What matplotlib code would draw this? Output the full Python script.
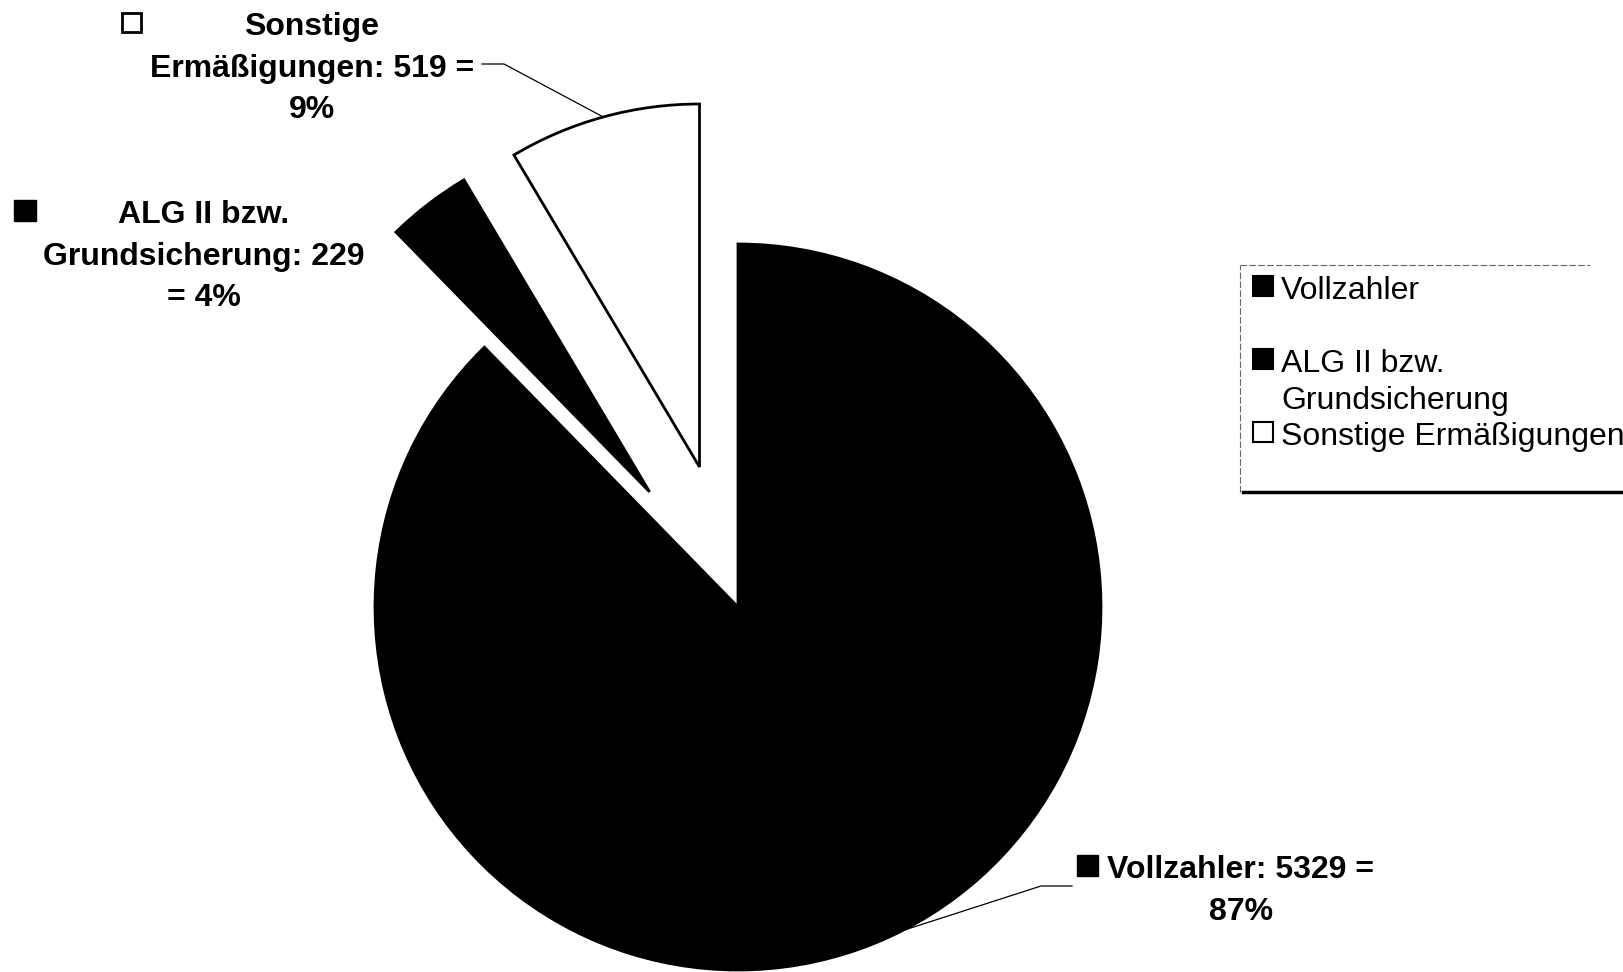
import numpy as np
import matplotlib
matplotlib.use('Agg')
from matplotlib import pyplot
from matplotlib.patches import Rectangle

# Teilnehmer nach Tarif
names = ['Vollzahler', 'ALG II bzw. Grundsicherung', 'Sonstige Ermäßigungen']
counts = [5329, 229, 519]
percents = [87, 4, 9]
fills = ['black', 'black', 'white']
explode_frac = [0, 0.4, 0.4]

label_texts = [
    'Vollzahler: %d =\n%d%%' % (counts[0], percents[0]),
    'ALG II bzw.\nGrundsicherung: %d\n= %d%%' % (counts[1], percents[1]),
    'Sonstige\nErmäßigungen: %d =\n%d%%' % (counts[2], percents[2]),
]
legend_texts = ['Vollzahler', 'ALG II bzw.\nGrundsicherung', 'Sonstige Ermäßigungen']

W, H = 1624, 972
R = 363
fig = pyplot.figure(figsize=(W / 100., H / 100.), dpi=100)
ax = fig.add_axes([0, 0, 1, 1])

# pie explode is in data units here, so scale by radius
wedges, _ = ax.pie(counts,
                   explode=[e * R for e in explode_frac],
                   colors=fills,
                   startangle=90,
                   counterclock=False,
                   center=(738, 365),
                   radius=R,
                   wedgeprops=dict(edgecolor='black', linewidth=2),
                   frame=False)
ax.set_xlim(0, W)
ax.set_ylim(0, H)
ax.set_aspect('equal')
ax.axis('off')

bold = dict(family='Liberation Sans', weight='bold', fontsize=23, color='black')
plain = dict(family='Liberation Sans', fontsize=23, color='black')


def arc_point(w, frac=0.5):
    ang = np.deg2rad(w.theta1 + frac * (w.theta2 - w.theta1))
    cx, cy = w.center
    return cx + w.r * np.cos(ang), cy + w.r * np.sin(ang)


# data labels
ax.text(312, 960, label_texts[2], ha='center', va='top',
        multialignment='center', linespacing=1.5, **bold)
ax.add_patch(Rectangle((122, 940), 19, 19, fc='white', ec='black', lw=2))
px, py = arc_point(wedges[2])
ax.plot([482, 504, px], [908, 908, py], color='black', lw=0.9)

ax.text(204, 772, label_texts[1], ha='center', va='top',
        multialignment='center', linespacing=1.5, **bold)
ax.add_patch(Rectangle((14, 751), 22, 21, fc='black', ec='black', lw=1))

ax.text(1241, 117, label_texts[0], ha='center', va='top',
        multialignment='center', linespacing=1.5, **bold)
ax.add_patch(Rectangle((1077, 96), 21, 21, fc='black', ec='black', lw=1))
px, py = arc_point(wedges[0], 0.515)
ax.plot([1072, 1041, px], [86, 86, py], color='black', lw=0.9)

# legend
key_y = [676, 603, 530]
for yk, txt, fc in zip(key_y, legend_texts, fills):
    ax.add_patch(Rectangle((1253, yk), 20, 20, fc=fc, ec='black', lw=1.5))
    ax.text(1281, yk + 20, txt, ha='left', va='top',
            linespacing=1.32, **plain)

ax.plot([1240, 1240], [480, 707], color='#666666', lw=0.8, ls=(0, (6, 2)))
ax.plot([1240, 1590], [707, 707], color='#666666', lw=0.8, ls=(0, (6, 2)))
ax.plot([1243, W], [480, 480], color='black', lw=2.5)

pyplot.savefig('out.png', dpi=100)
